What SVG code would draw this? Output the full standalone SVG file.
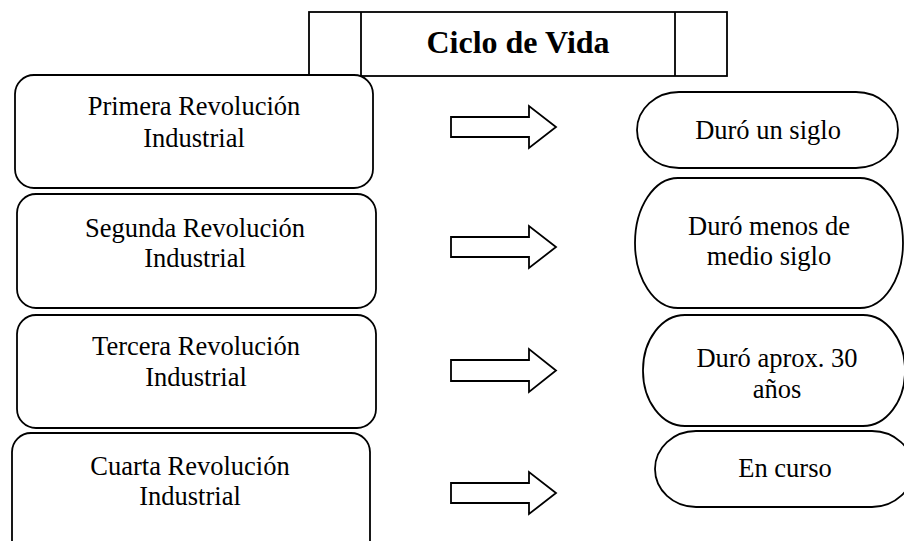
<svg xmlns="http://www.w3.org/2000/svg" width="904" height="541" viewBox="0 0 904 541">
<style>
.s{fill:#fff;stroke:#000;stroke-width:1.8}
text{font-family:'Liberation Serif','Times New Roman',Times,serif;fill:#000;text-anchor:middle}
.t{font-size:26.5px}
.h{font-size:32px;font-weight:bold}
</style>
<rect width="904" height="541" fill="#fff"/>
<g id="title">
<rect class="s" x="309" y="12" width="418" height="64"/>
<line class="s" x1="361" y1="12" x2="361" y2="76"/>
<line class="s" x1="675" y1="12" x2="675" y2="76"/>
<text class="h" x="518" y="53">Ciclo de Vida</text>
</g>
<g id="rev1">
<rect class="s" x="15" y="75" width="358" height="113" rx="19" ry="19"/>
<text class="t" x="194" y="115">Primera Revolución</text>
<text class="t" x="194" y="147">Industrial</text>
</g>
<g id="rev2">
<rect class="s" x="17" y="194" width="359" height="114" rx="19" ry="19"/>
<text class="t" x="195" y="237">Segunda Revolución</text>
<text class="t" x="195" y="267">Industrial</text>
</g>
<g id="rev3">
<rect class="s" x="17" y="315" width="359" height="113" rx="19" ry="19"/>
<text class="t" x="196" y="355">Tercera Revolución</text>
<text class="t" x="196" y="386">Industrial</text>
</g>
<g id="rev4">
<rect class="s" x="12" y="433" width="358" height="130" rx="19" ry="19"/>
<text class="t" x="190" y="475">Cuarta Revolución</text>
<text class="t" x="190" y="505">Industrial</text>
</g>
<g id="dur1">
<rect class="s" x="637" y="92" width="261" height="76" rx="42" ry="38"/>
<text class="t" x="768" y="139">Duró un siglo</text>
</g>
<g id="dur2">
<rect class="s" x="635" y="178" width="268" height="130" rx="43" ry="65"/>
<text class="t" x="769" y="235">Duró menos de</text>
<text class="t" x="769" y="265">medio siglo</text>
</g>
<g id="dur3">
<rect class="s" x="643" y="315" width="262" height="111" rx="42" ry="55"/>
<text class="t" x="777" y="367">Duró aprox. 30</text>
<text class="t" x="777" y="398">años</text>
</g>
<g id="dur4">
<rect class="s" x="655" y="431" width="258" height="76" rx="41" ry="38"/>
<text class="t" x="785" y="477">En curso</text>
</g>
<g id="connectors">
<path class="s" d="M451,117 H529 V106 L556,127 L529,148 V137 H451 Z"/>
<path class="s" d="M451,237 H529 V226 L556,247 L529,268 V257 H451 Z"/>
<path class="s" d="M451,360 H529 V349 L556,370.5 L529,392 V381 H451 Z"/>
<path class="s" d="M451,483 H529 V472 L556,493 L529,514 V503 H451 Z"/>
</g>
</svg>
